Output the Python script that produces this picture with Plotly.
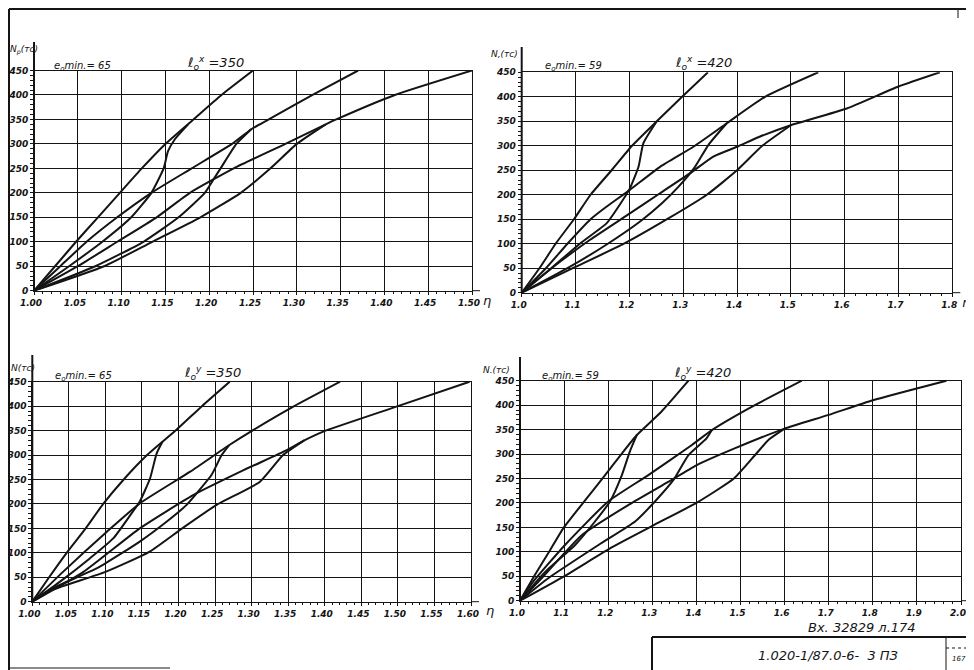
import plotly.graph_objects as go

W, H = 974, 670
OFF = 8  # page body margin of the rendered html

# ---------------- DATA (N in тс vs η) ----------------
# Panel 1: e0min = 65, l0x = 350
p1_A_n = [0, 50, 100, 150, 200, 250, 300, 350, 400, 450]
p1_A_eta = [1.0, 1.024, 1.048, 1.073, 1.098, 1.123, 1.150, 1.182, 1.214, 1.250]
p1_T1_n = [0, 50, 100, 150, 200, 250, 285, 310, 340]
p1_T1_eta = [1.0, 1.040, 1.078, 1.111, 1.134, 1.148, 1.153, 1.161, 1.176]
p1_B_n = [0, 50, 100, 150, 200, 250, 300, 330, 350, 400, 450]
p1_B_eta = [1.0, 1.030, 1.060, 1.095, 1.134, 1.180, 1.226, 1.248, 1.268, 1.318, 1.370]
p1_T2_n = [0, 50, 100, 150, 200, 225, 250, 300, 330]
p1_T2_eta = [1.0, 1.070, 1.125, 1.165, 1.195, 1.204, 1.213, 1.231, 1.248]
p1_C_n = [0, 50, 100, 150, 200, 250, 300, 340, 350, 400, 450]
p1_C_eta = [1.0, 1.050, 1.095, 1.140, 1.178, 1.228, 1.287, 1.333, 1.345, 1.412, 1.500]
p1_T3_n = [0, 50, 100, 150, 200, 250, 300, 340]
p1_T3_eta = [1.0, 1.080, 1.135, 1.190, 1.236, 1.270, 1.300, 1.333]

# Panel 2: e0min = 59, l0x = 420
p2_A_n = [0, 50, 100, 150, 200, 250, 300, 350, 400, 450]
p2_A_eta = [1.0, 1.033, 1.063, 1.097, 1.128, 1.167, 1.205, 1.251, 1.298, 1.346]
p2_T1_n = [0, 50, 100, 142, 176, 213, 257, 305, 350]
p2_T1_eta = [1.0, 1.055, 1.108, 1.158, 1.180, 1.201, 1.217, 1.226, 1.251]
p2_B_n = [0, 50, 100, 150, 176, 210, 257, 298, 346, 400, 450]
p2_B_eta = [1.0, 1.045, 1.085, 1.128, 1.158, 1.201, 1.257, 1.319, 1.381, 1.452, 1.551]
p2_T2_n = [0, 50, 100, 148, 182, 216, 257, 302, 346]
p2_T2_eta = [1.0, 1.085, 1.160, 1.223, 1.260, 1.291, 1.322, 1.347, 1.381]
p2_C_n = [0, 53, 108, 162, 203, 244, 278, 298, 319, 342, 376, 421, 450]
p2_C_eta = [1.0, 1.059, 1.127, 1.201, 1.257, 1.313, 1.356, 1.400, 1.443, 1.500, 1.604, 1.700, 1.777]
p2_T3_n = [0, 50, 100, 150, 200, 250, 300, 342]
p2_T3_eta = [1.0, 1.095, 1.190, 1.270, 1.344, 1.400, 1.447, 1.500]

# Panel 3: e0min = 65, l0y = 350
p3_A_n = [0, 50, 100, 150, 200, 250, 300, 350, 400, 450]
p3_A_eta = [1.0, 1.023, 1.047, 1.073, 1.097, 1.125, 1.157, 1.196, 1.232, 1.270]
p3_T1_n = [0, 41, 89, 130, 177, 205, 252, 303, 327]
p3_T1_eta = [1.0, 1.038, 1.079, 1.111, 1.134, 1.147, 1.161, 1.170, 1.178]
p3_B_n = [0, 61, 143, 201, 266, 320, 351, 399, 450]
p3_B_eta = [1.0, 1.042, 1.102, 1.147, 1.216, 1.269, 1.302, 1.357, 1.421]
p3_T2_n = [0, 31, 68, 123, 164, 198, 222, 259, 300, 320]
p3_T2_eta = [1.0, 1.033, 1.088, 1.147, 1.184, 1.211, 1.225, 1.245, 1.259, 1.269]
p3_C_n = [0, 61, 150, 218, 269, 310, 330, 348, 400, 450]
p3_C_eta = [1.0, 1.070, 1.147, 1.220, 1.289, 1.348, 1.372, 1.398, 1.500, 1.598]
p3_T3_n = [0, 20, 61, 102, 150, 198, 245, 300, 330]
p3_T3_eta = [1.0, 1.020, 1.100, 1.160, 1.205, 1.252, 1.311, 1.343, 1.372]

# Panel 4: e0min = 59, l0y = 420
p4_A_n = [0, 53, 100, 148, 200, 257, 300, 339, 387, 450]
p4_A_eta = [1.0, 1.034, 1.066, 1.098, 1.143, 1.193, 1.230, 1.265, 1.321, 1.382]
p4_T1_n = [0, 59, 114, 162, 203, 257, 305, 339]
p4_T1_eta = [1.0, 1.057, 1.125, 1.170, 1.204, 1.231, 1.249, 1.265]
p4_B_n = [0, 39, 114, 203, 257, 318, 349, 393, 450]
p4_B_eta = [1.0, 1.030, 1.102, 1.200, 1.291, 1.389, 1.435, 1.518, 1.639]
p4_T2_n = [0, 46, 114, 162, 203, 247, 298, 332, 349]
p4_T2_eta = [1.0, 1.064, 1.178, 1.261, 1.306, 1.348, 1.382, 1.423, 1.435]
p4_C_n = [0, 39, 134, 196, 243, 277, 312, 352, 380, 410, 450]
p4_C_eta = [1.0, 1.042, 1.140, 1.246, 1.336, 1.400, 1.488, 1.600, 1.700, 1.800, 1.967]
p4_T3_n = [0, 50, 110, 160, 200, 250, 300, 330, 352]
p4_T3_eta = [1.0, 1.100, 1.210, 1.315, 1.400, 1.485, 1.535, 1.565, 1.600]

p1_xticks = [1.00, 1.05, 1.10, 1.15, 1.20, 1.25, 1.30, 1.35, 1.40, 1.45, 1.50]
p2_xticks = [1.0, 1.1, 1.2, 1.3, 1.4, 1.5, 1.6, 1.7, 1.8]
p3_xticks = [1.00, 1.05, 1.10, 1.15, 1.20, 1.25, 1.30, 1.35, 1.40, 1.45, 1.50, 1.55, 1.60]
p4_xticks = [1.0, 1.1, 1.2, 1.3, 1.4, 1.5, 1.6, 1.7, 1.8, 1.9, 2.0]
n_ticks = [0, 50, 100, 150, 200, 250, 300, 350, 400, 450]

p1_emin, p2_emin, p3_emin, p4_emin = "65", "59", "65", "59"
p1_l0, p2_l0, p3_l0, p4_l0 = "350", "420", "350", "420"

# ---------------- LAYOUT helpers (screen px -> paper) ----------------
def fx(px):
    return (px - OFF) / W

def fy(py):
    return 1 - (py - OFF) / H

panels = [
    dict(curves=[(p1_A_eta, p1_A_n), (p1_T1_eta, p1_T1_n), (p1_B_eta, p1_B_n),
                 (p1_T2_eta, p1_T2_n), (p1_C_eta, p1_C_n), (p1_T3_eta, p1_T3_n)],
         ticks=p1_xticks, fmt="{:.2f}", minor=0.01, box=(34, 472, 70.5, 290.7),
         emin=p1_emin, l0=p1_l0, sup="x", ylab="N<sub>p</sub>(тс)",
         ylab_pos=(8, 50), axtop=42, etapos=(487, 300), emin_pos=(52, 67), l0_pos=(185, 63)),
    dict(curves=[(p2_A_eta, p2_A_n), (p2_T1_eta, p2_T1_n), (p2_B_eta, p2_B_n),
                 (p2_T2_eta, p2_T2_n), (p2_C_eta, p2_C_n), (p2_T3_eta, p2_T3_n)],
         ticks=p2_xticks, fmt="{:.1f}", minor=0.02, box=(521.7, 952.3, 72.3, 292.7),
         emin=p2_emin, l0=p2_l0, sup="x", ylab="N,(тс)",
         ylab_pos=(489, 54), axtop=47, etapos=(966, 302), emin_pos=(543, 67), l0_pos=(673, 63)),
    dict(curves=[(p3_A_eta, p3_A_n), (p3_T1_eta, p3_T1_n), (p3_B_eta, p3_B_n),
                 (p3_T2_eta, p3_T2_n), (p3_C_eta, p3_C_n), (p3_T3_eta, p3_T3_n)],
         ticks=p3_xticks, fmt="{:.2f}", minor=0.01, box=(32.3, 471, 381.7, 601.7),
         emin=p3_emin, l0=p3_l0, sup="y", ylab="N(тс)",
         ylab_pos=(9, 368), axtop=355, etapos=(490, 610), emin_pos=(53, 376), l0_pos=(182, 373)),
    dict(curves=[(p4_A_eta, p4_A_n), (p4_T1_eta, p4_T1_n), (p4_B_eta, p4_B_n),
                 (p4_T2_eta, p4_T2_n), (p4_C_eta, p4_C_n), (p4_T3_eta, p4_T3_n)],
         ticks=p4_xticks, fmt="{:.1f}", minor=0.02, box=(520, 961, 380.7, 600.7),
         emin=p4_emin, l0=p4_l0, sup="y", ylab="N.(тс)",
         ylab_pos=(481, 370), axtop=357, etapos=(969, 610), emin_pos=(540, 376), l0_pos=(672, 373)),
]

INK = "#141414"
FONT = "DejaVu Sans"
fig = go.Figure()
shapes = []
annotations = []
layout = {}

for i, p in enumerate(panels, start=1):
    xa = "x" if i == 1 else f"x{i}"
    ya = "y" if i == 1 else f"y{i}"
    xkey = "xaxis" if i == 1 else f"xaxis{i}"
    ykey = "yaxis" if i == 1 else f"yaxis{i}"
    x0, x1, ytop, ybot = p["box"]
    ticks = p["ticks"]
    for ex, nn in p["curves"]:
        fig.add_trace(go.Scatter(x=ex, y=nn, mode="lines", xaxis=xa, yaxis=ya,
                                 line=dict(color=INK, width=2, shape="spline", smoothing=0.5),
                                 hoverinfo="skip", showlegend=False))
    layout[xkey] = dict(
        domain=[fx(x0), fx(x1)], range=[ticks[0], ticks[-1]], anchor=ya,
        tickvals=ticks, ticktext=[p["fmt"].format(t) for t in ticks],
        tickfont=dict(family=FONT, size=9, color=INK, style="italic", weight="bold"),
        ticklabelshift=-3, automargin=False,
        showgrid=True, gridcolor=INK, gridwidth=1, zeroline=False,
        showline=True, linecolor=INK, linewidth=1, mirror=True,
        ticks="outside", ticklen=3, tickcolor=INK,
        minor=dict(dtick=p["minor"], ticks="outside", ticklen=2, tickcolor=INK, showgrid=False),
        fixedrange=True)
    layout[ykey] = dict(
        domain=[fy(ybot), fy(ytop)], range=[0, 450], anchor=xa,
        tickvals=n_ticks, ticktext=[str(v) for v in n_ticks],
        tickfont=dict(family=FONT, size=9, color=INK, style="italic", weight="bold"),
        automargin=False,
        showgrid=True, gridcolor=INK, gridwidth=1, zeroline=False,
        showline=True, linecolor=INK, linewidth=1, mirror=True,
        ticks="outside", ticklen=3, tickcolor=INK,
        minor=dict(dtick=10, ticks="outside", ticklen=3, tickcolor=INK, showgrid=False),
        fixedrange=True)
    # thick vertical axis extended upward
    shapes.append(dict(type="line", xref="paper", yref="paper",
                       x0=fx(x0), x1=fx(x0), y0=fy(ybot), y1=fy(p["axtop"]),
                       line=dict(color=INK, width=2)))
    # x axis extended to the right
    shapes.append(dict(type="line", xref="paper", yref="paper",
                       x0=fx(x1), x1=fx(x1 + 8), y0=fy(ybot), y1=fy(ybot),
                       line=dict(color=INK, width=1)))
    annotations.append(dict(xref="paper", yref="paper", x=fx(p["etapos"][0]), y=fy(p["etapos"][1]),
                            text="<i>η</i>", showarrow=False, xanchor="center", yanchor="middle",
                            font=dict(family=FONT, size=13, color=INK)))
    annotations.append(dict(xref="paper", yref="paper", x=fx(p["ylab_pos"][0]), y=fy(p["ylab_pos"][1]),
                            text="<i>" + p["ylab"] + "</i>", showarrow=False, xanchor="left",
                            yanchor="middle", font=dict(family=FONT, size=9, color=INK)))
    annotations.append(dict(xref="paper", yref="paper", x=fx(p["emin_pos"][0]), y=fy(p["emin_pos"][1]),
                            text="<i>e<sub>o</sub>min.= " + p["emin"] + "</i>", showarrow=False,
                            xanchor="left", yanchor="middle",
                            font=dict(family=FONT, size=10, color=INK)))
    annotations.append(dict(xref="paper", yref="paper", x=fx(p["l0_pos"][0]), y=fy(p["l0_pos"][1]),
                            text="<i>ℓ<sub>o</sub><sup>" + p["sup"] + "</sup> =" + p["l0"] + "</i>",
                            showarrow=False, xanchor="left", yanchor="middle",
                            font=dict(family=FONT, size=13, color=INK)))

# drawing frame and title block
shapes += [
    dict(type="line", xref="paper", yref="paper", x0=fx(9), x1=fx(982), y0=fy(9), y1=fy(9),
         line=dict(color=INK, width=2)),
    dict(type="line", xref="paper", yref="paper", x0=fx(9), x1=fx(9), y0=fy(9), y1=fy(678),
         line=dict(color=INK, width=2)),
    dict(type="line", xref="paper", yref="paper", x0=fx(958), x1=fx(958), y0=fy(8), y1=fy(18),
         line=dict(color=INK, width=1)),
    dict(type="line", xref="paper", yref="paper", x0=fx(10), x1=fx(170), y0=fy(668), y1=fy(668),
         line=dict(color=INK, width=1)),
    dict(type="line", xref="paper", yref="paper", x0=fx(652), x1=fx(982), y0=fy(637), y1=fy(637),
         line=dict(color=INK, width=2)),
    dict(type="line", xref="paper", yref="paper", x0=fx(652), x1=fx(652), y0=fy(637), y1=fy(678),
         line=dict(color=INK, width=2)),
    dict(type="line", xref="paper", yref="paper", x0=fx(946), x1=fx(946), y0=fy(637), y1=fy(678),
         line=dict(color=INK, width=1)),
    dict(type="line", xref="paper", yref="paper", x0=fx(946), x1=fx(974), y0=fy(648), y1=fy(648),
         line=dict(color=INK, width=1, dash="dot")),
]
annotations += [
    dict(xref="paper", yref="paper", x=fx(862), y=fy(627), text="<i>Вх. 32829 л.174</i>",
         showarrow=False, xanchor="center", yanchor="middle",
         font=dict(family=FONT, size=13, color=INK)),
    dict(xref="paper", yref="paper", x=fx(828), y=fy(655), text="<i>1.020-1/87.0-6-  3 ПЗ</i>",
         showarrow=False, xanchor="center", yanchor="middle",
         font=dict(family=FONT, size=13, color=INK)),
    dict(xref="paper", yref="paper", x=fx(959), y=fy(659), text="<i>167</i>",
         showarrow=False, xanchor="center", yanchor="middle",
         font=dict(family=FONT, size=7, color=INK)),
]

fig.update_layout(width=W, height=H,
                  margin=dict(l=0, r=0, t=0, b=0, pad=0, autoexpand=False),
                  paper_bgcolor="white", plot_bgcolor="white",
                  shapes=shapes, annotations=annotations, showlegend=False, **layout)
fig.write_html("out.html")
